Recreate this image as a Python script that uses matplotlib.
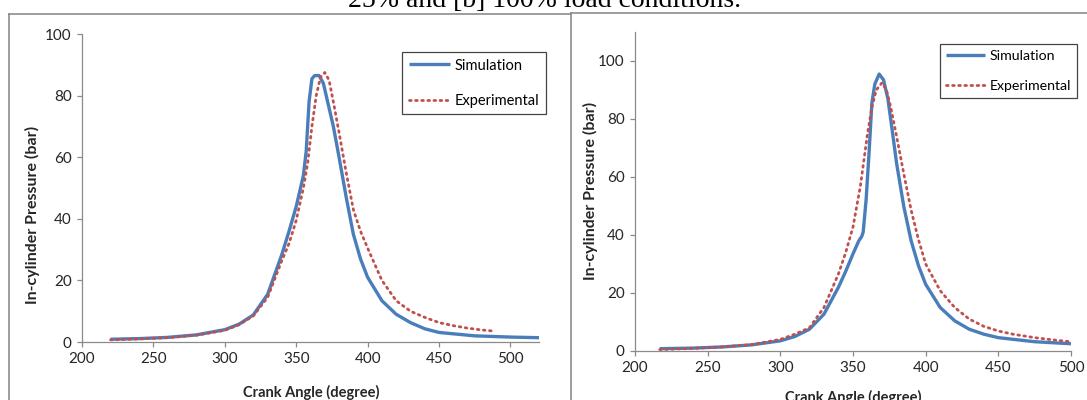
import numpy as np
import matplotlib
matplotlib.use('Agg')
import matplotlib.pyplot as plt
from matplotlib.lines import Line2D

# --- data (crank angle in degrees, pressure in bar) ---
# [a] 25% load
a_sim_x = [220, 240, 260, 280, 300, 310, 320, 330, 340, 345, 350, 355, 357, 359, 361,
           363, 366, 369, 372, 376, 380, 385, 390, 395, 400, 410, 420, 430, 440, 450,
           475, 500, 520]
a_sim_y = [0.9, 1.1, 1.5, 2.3, 4.0, 5.8, 8.8, 15.5, 28.5, 36, 44, 54, 62, 78, 85.5,
           86.5, 86.5, 84, 78, 70, 60, 47, 35, 27, 21, 13.4, 9.0, 6.3, 4.3, 3.1,
           2.0, 1.6, 1.4]
a_exp_x = [220, 240, 260, 280, 300, 310, 320, 330, 340, 345, 350, 355, 358, 361, 364,
           367, 370, 373, 376, 380, 385, 390, 395, 400, 410, 420, 430, 440, 450, 460,
           470, 480, 487]
a_exp_y = [0.7, 1.0, 1.4, 2.2, 3.8, 5.6, 8.5, 14.5, 26.5, 32, 39.5, 50, 58, 70, 80,
           86, 87.5, 85, 78, 68, 55, 43, 36, 30.5, 20, 13.4, 10, 8, 6.3, 5.3,
           4.5, 3.9, 3.6]

# [b] 100% load
b_sim_x = [217, 240, 260, 280, 300, 310, 320, 330, 340, 345, 350, 354, 356, 357, 359,
           361, 363, 365, 368, 371, 374, 377, 380, 385, 390, 395, 400, 410, 420, 430,
           440, 450, 475, 500]
b_sim_y = [0.8, 1.0, 1.4, 2.1, 3.5, 5.0, 7.5, 12.7, 22, 27.5, 33.5, 38, 39.5, 41, 52,
           68, 85.5, 92, 95.5, 93.5, 87, 76, 64.7, 49.7, 38, 29.5, 23, 15, 10.4, 7.5,
           5.8, 4.6, 3.2, 2.5]
b_exp_x = [217, 240, 260, 280, 300, 310, 320, 330, 340, 345, 350, 355, 360, 363, 366,
           370, 373, 376, 380, 385, 390, 395, 400, 410, 420, 430, 440, 450, 460, 475,
           490, 500]
b_exp_y = [0.5, 0.9, 1.4, 2.2, 4.0, 5.8, 8.0, 15, 26.6, 34, 42.8, 56.6, 75, 84, 90,
           92.5, 90, 84, 74, 61, 48.6, 38.5, 30, 20.8, 15, 11, 8.5, 6.9, 5.8, 4.6,
           3.7, 3.2]

xticks_a = [200, 250, 300, 350, 400, 450, 500]
xticks_b = [200, 250, 300, 350, 400, 450, 500]
yticks = [0, 20, 40, 60, 80, 100]

caption = '25% and [b] 100% load conditions.'
xlab = 'Crank Angle (degree)'
ylab = 'In-cylinder Pressure (bar)'
labels = ['Simulation', 'Experimental']

W, H = 1087, 400
plt.rcParams.update({
    'font.family': ['Lato', 'DejaVu Sans'],
    'font.size': 10.5,
    'xtick.labelsize': 11,
    'ytick.labelsize': 11,
    'axes.edgecolor': '#8a8a8a',
    'xtick.color': '#8a8a8a',
    'ytick.color': '#8a8a8a',
    'xtick.labelcolor': '#262626',
    'ytick.labelcolor': '#262626',
})

fig = plt.figure(figsize=(W / 100, H / 100), dpi=100)
fig.patch.set_facecolor('white')


def px_axes(x0, y0, x1, y1):
    # pixel box (left, top, right, bottom) -> figure fraction
    return fig.add_axes([x0 / W, 1 - y1 / H, (x1 - x0) / W, (y1 - y0) / H])


sim_c = '#4a7ebb'
exp_c = '#c0504d'

panels = [
    # axes, data, xlim, ylim, xticks, xlabel pos, ylabel pos, legend corner, legend look
    (px_axes(82, 34, 539, 342), a_sim_x, a_sim_y, a_exp_x, a_exp_y, (200, 520), (0, 100),
     xticks_a, (311, 392), (32, 215), (402, 52), (2.85, 1.45, 10.5)),
    (px_axes(635, 32, 1071, 351), b_sim_x, b_sim_y, b_exp_x, b_exp_y, (200, 500), (0, 110),
     xticks_b, (853, 397), (590, 191), (940, 44), (2.75, 1.25, 10.2)),
]

for ax, sx, sy, ex, ey, xl, yl, xt, xlpos, ylpos, legpos, legsty in panels:
    ax.plot(sx, sy, color=sim_c, lw=2.4, label=labels[0], solid_capstyle='butt')
    ax.plot(ex, ey, color=exp_c, lw=2.0, linestyle=(0, (0.6, 1.6)), label=labels[1],
            dash_capstyle='round')
    ax.set_xlim(*xl)
    ax.set_ylim(*yl)
    ax.set_xticks(xt)
    ax.set_yticks(yticks)
    for s in ['top', 'right']:
        ax.spines[s].set_visible(False)
    ax.spines['left'].set_linewidth(0.9)
    ax.spines['bottom'].set_linewidth(0.9)
    ax.tick_params(direction='out', length=3.5, width=0.9, pad=4)
    ax.set_xlabel(xlab, fontweight='bold', fontsize=10.5, color='#262626', va='center')
    ax.xaxis.set_label_coords(xlpos[0] / W, 1 - xlpos[1] / H, transform=fig.transFigure)
    ax.set_ylabel(ylab, fontweight='bold', fontsize=11.5, color='#262626', va='center')
    ax.yaxis.set_label_coords(ylpos[0] / W, 1 - ylpos[1] / H, transform=fig.transFigure)
    leg = ax.legend(loc='upper left', bbox_to_anchor=(legpos[0] / W, 1 - legpos[1] / H),
                    bbox_transform=fig.transFigure, borderaxespad=0, fancybox=False,
                    framealpha=1, edgecolor='#444444', handlelength=legsty[0],
                    handletextpad=0.3, labelspacing=legsty[1], borderpad=0.45,
                    fontsize=legsty[2])
    leg.get_frame().set_linewidth(0.9)

# frames around the two pasted charts and the clipped caption above them
fc = '#8c8c8c'
fig.add_artist(Line2D([9 / W, 9 / W], [0, 1 - 13.5 / H], color=fc, lw=1.2))
fig.add_artist(Line2D([9 / W, 571 / W], [1 - 13.5 / H, 1 - 13.5 / H], color=fc, lw=1.2))
fig.add_artist(Line2D([571 / W, 571 / W], [0, 1 - 12.5 / H], color=fc, lw=1.2))
fig.add_artist(Line2D([571 / W, 1], [1 - 12.5 / H, 1 - 12.5 / H], color=fc, lw=1.2))
fig.text(545 / W, 1 - 7 / H, caption, ha='center', va='baseline',
         family='Liberation Serif', fontsize=20, color='black')

fig.savefig('out.png', dpi=100)
